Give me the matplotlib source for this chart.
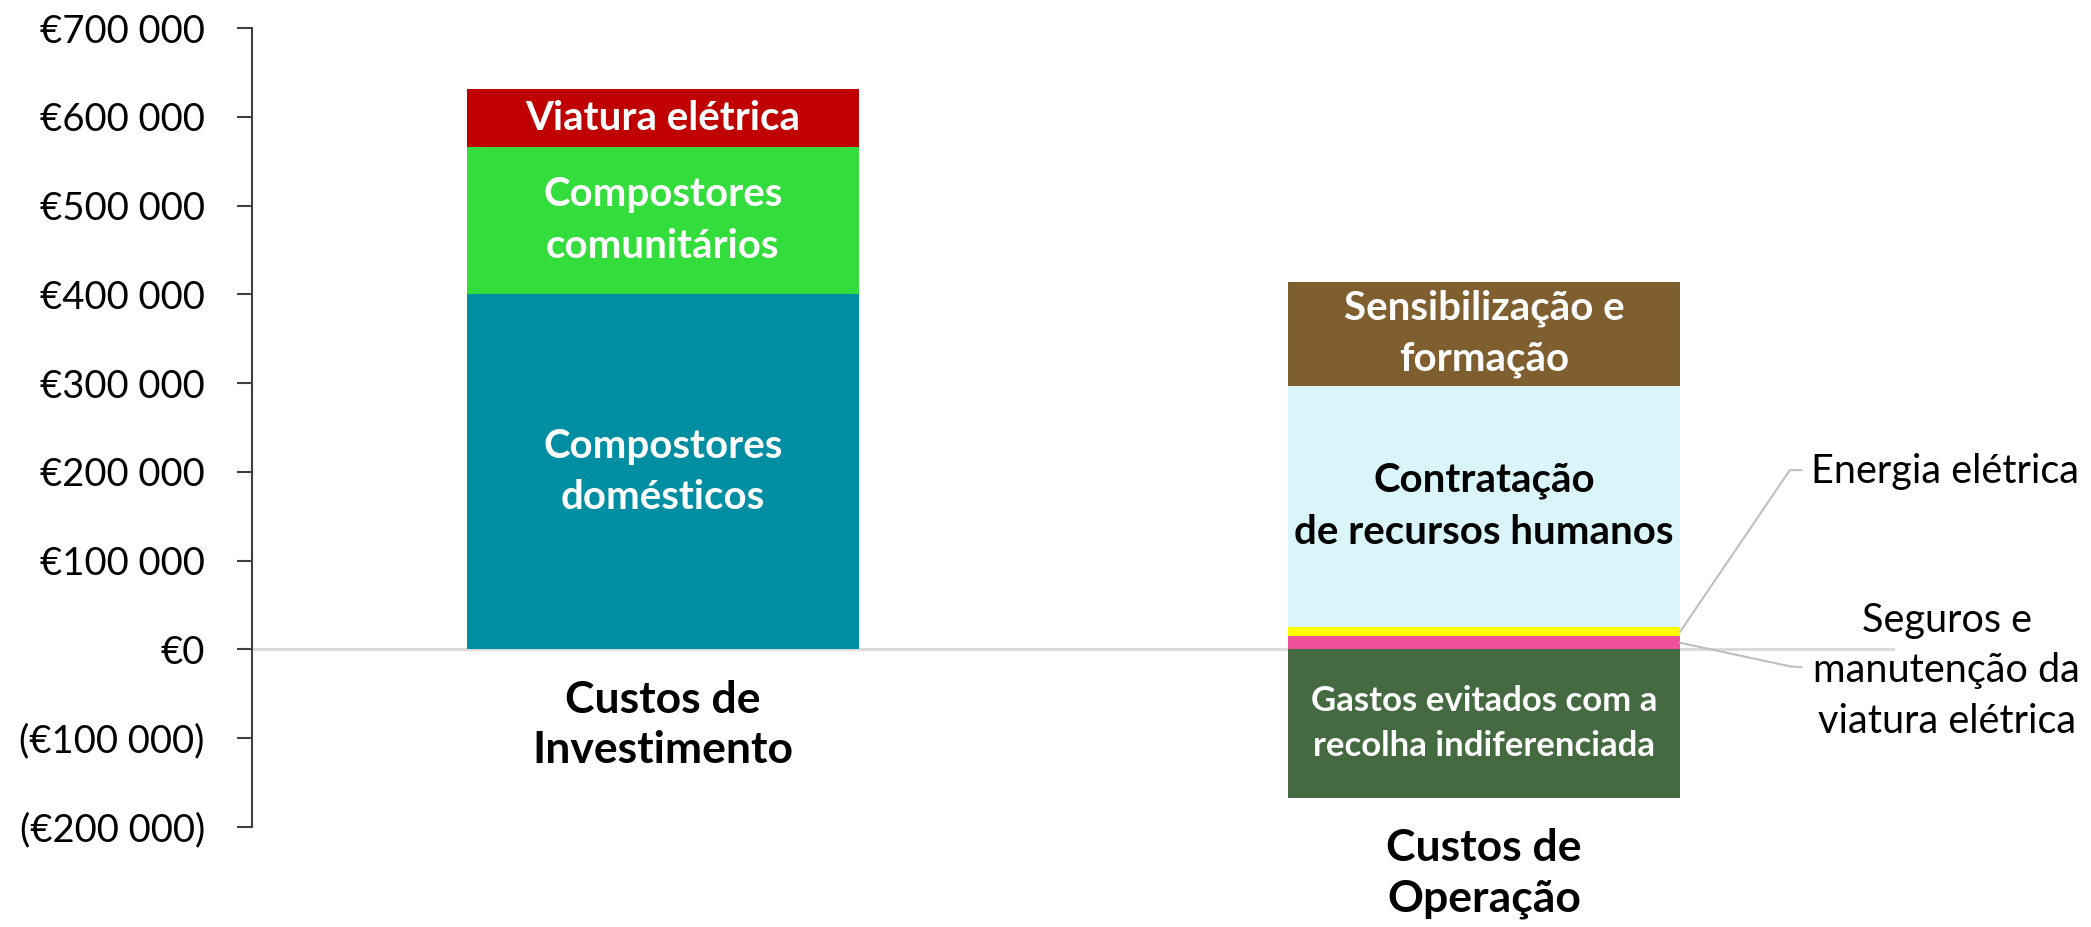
import matplotlib
matplotlib.use("Agg")
import matplotlib.pyplot as plt
from matplotlib.ticker import FuncFormatter, MultipleLocator

plt.rcParams['font.family'] = ['Lato', 'DejaVu Sans']

categories = ['Custos de\nInvestimento', 'Custos de\nOperação']

# investment stack, bottom -> top
inv_labels = ['Compostores\ndomésticos', 'Compostores\ncomunitários', 'Viatura elétrica']
inv_values = [400000, 166000, 65000]
inv_colors = ['#008FA2', '#32DD3C', '#C00000']

# operation stack (positive part), bottom -> top
op_labels = ['Seguros e\nmanutenção da\nviatura elétrica', 'Energia elétrica',
             'Contratação\nde recursos humanos', 'Sensibilização e\nformação']
op_values = [15000, 10000, 272000, 117000]
op_colors = ['#EE519A', '#FFFF00', '#DAF5F9', '#7F5F2F']

# operation stack, negative part
avoided_label = 'Gastos evitados com a\nrecolha indiferenciada'
avoided_value = -167000
avoided_color = '#456A41'


def euro(v, pos):
    s = '€' + format(int(abs(v)), ',').replace(',', ' ')
    return '(' + s + ')' if v < 0 else s


fig = plt.figure(figsize=(20.91, 9.27), dpi=100)
ax = fig.add_axes([252 / 2091, 1 - 827 / 927, (1895 - 252) / 2091, (827 - 28) / 927])

w = 0.477
ax.axhline(0, color='#D9D9D9', lw=2, zorder=0)

# investment bar
bottom = 0
for lab, v, c in zip(inv_labels, inv_values, inv_colors):
    ax.bar(0, v, w, bottom=bottom, color=c, linewidth=0, zorder=2)
    ax.text(0, bottom + v / 2, lab, ha='center', va='center', color='white',
            fontsize=29, fontweight='bold', linespacing=1.48, zorder=3)
    bottom += v

# operation bar
bottom = 0
mids = []
for lab, v, c in zip(op_labels, op_values, op_colors):
    ax.bar(1, v, w, bottom=bottom, color=c, linewidth=0, zorder=2)
    mids.append(bottom + v / 2)
    bottom += v
ax.bar(1, avoided_value, w, color=avoided_color, linewidth=0, zorder=2)

ax.text(1, mids[3], op_labels[3], ha='center', va='center', color='white',
        fontsize=29, fontweight='bold', linespacing=1.45, zorder=3)
ax.text(1, mids[2], op_labels[2], ha='center', va='center', color='black',
        fontsize=29, fontweight='bold', linespacing=1.5, zorder=3)
ax.text(1, avoided_value / 2, avoided_label, ha='center', va='center', color='white',
        fontsize=25, fontweight='bold', linespacing=1.48, zorder=3)

# leader lines for the thin segments
edge = 1 + w / 2
ax.plot([edge, 1.372, 1.386], [mids[1], 202000, 202000], color='#BFBFBF', lw=1.5,
        clip_on=False, zorder=3)
ax.text(1.398, 200000, op_labels[1], ha='left', va='center', fontsize=28.5)
ax.plot([edge, 1.372, 1.386], [mids[0], -19000, -20000], color='#BFBFBF', lw=1.5,
        clip_on=False, zorder=3)
ax.text(1.563, -24000, op_labels[0], ha='center', va='center', fontsize=28.5,
        linespacing=1.45, multialignment='center')

# category labels under each stack
lows = [0, avoided_value]
for i, (cat, low) in enumerate(zip(categories, lows)):
    ax.annotate(cat, xy=(i, low), xytext=(0, -22), textcoords='offset points',
                ha='center', va='top', fontsize=32, fontweight='bold', linespacing=1.3,
                annotation_clip=False)

ax.set_xlim(-0.5, 1.5)
ax.set_ylim(-200000, 700000)
ax.yaxis.set_major_locator(MultipleLocator(100000))
ax.yaxis.set_major_formatter(FuncFormatter(euro))
ax.tick_params(axis='y', labelsize=27.5, length=11, width=1.5, color='#404040', pad=23)
ax.set_xticks([])
for s in ['top', 'right', 'bottom']:
    ax.spines[s].set_visible(False)
ax.spines['left'].set_color('#404040')
ax.spines['left'].set_linewidth(1.5)

fig.savefig('out.png', dpi=100)
